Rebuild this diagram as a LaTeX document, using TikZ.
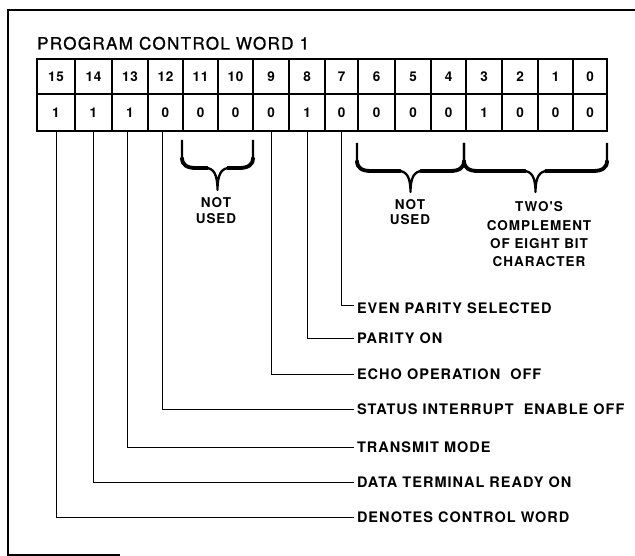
\documentclass[tikz,border=0pt]{standalone}
\usepackage{fontspec}
\setmainfont{TeX Gyre Heros}
\newfontfamily\labfont[LetterSpace=7]{TeX Gyre Heros}
\newfontfamily\titlefont[LetterSpace=8,FakeBold=1]{TeX Gyre Heros}
\newcommand\mybrace[4]{%
  \pgfmathsetmacro\bxm{(#1+#2)/2}%
  \draw[bracestroke] (#1,#3) -- (#1,{#3+16})
    .. controls (#1,{#3+25}) and ({#1+5},{#3+28}) .. ({#1+14},{#3+28})
    -- ({\bxm-12},{#3+28})
    .. controls ({\bxm-4},{#3+28}) and (\bxm,{#3+34}) .. (\bxm,#4)
    .. controls (\bxm,{#3+34}) and ({\bxm+4},{#3+28}) .. ({\bxm+12},{#3+28})
    -- ({#2-14},{#3+28})
    .. controls ({#2-5},{#3+28}) and (#2,{#3+25}) .. (#2,{#3+16}) -- (#2,#3);
  \draw[bracethick] (#1,{#3+18})
    .. controls (#1,{#3+25}) and ({#1+5},{#3+28}) .. ({#1+14},{#3+28})
    -- ({\bxm-10},{#3+28});
  \draw[bracethick] ({\bxm+10},{#3+28}) -- ({#2-14},{#3+28})
    .. controls ({#2-5},{#3+28}) and (#2,{#3+25}) .. (#2,{#3+18});}
\begin{document}
\begin{tikzpicture}[x=1bp,y=-1bp,
  frame/.style={line width=2.2bp},
  cell/.style={draw,line width=1.2bp,inner sep=0pt,outer sep=0pt,
    font=\labfont\bfseries\fontsize{13.5bp}{15bp}\selectfont},
  conn/.style={line width=1bp},
  lab/.style={anchor=west,inner sep=0pt,outer sep=3bp,
    font=\labfont\bfseries\fontsize{14.5bp}{16bp}\selectfont},
  btext/.style={align=center,inner sep=0pt,
    font=\labfont\bfseries\fontsize{13.5bp}{15.5bp}\selectfont},
  bracestroke/.style={line width=2.3bp,line join=round},
  bracethick/.style={line width=3.8bp,line cap=round}]
\useasboundingbox (0,0) rectangle (635,556);
% frame
\draw[frame] (635,10) -- (8,10) -- (8,555) -- (120,555);
% title
\node[anchor=south west,inner sep=0pt,font=\titlefont\fontsize{17bp}{19bp}\selectfont]
  (title) at (37,50) {PROGRAM CONTROL WORD 1};
% table
\foreach \b/\l/\r/\v in {15/37/75/1,14/75/112/1,13/112/148/1,12/148/183/0,
  11/183/218/0,10/218/253/0,9/253/289/0,8/289/325/1,7/325/358/0,6/358/395/0,
  5/395/431/0,4/431/466/0,3/466/502/1,2/502/538/0,1/538/573/0,0/573/607/0}{
  \node[cell,minimum width={(\r-\l)*1bp},minimum height=35bp] (h\b) at ({(\l+\r)/2},76.5) {\b};
  \node[cell,minimum width={(\r-\l)*1bp},minimum height=37bp] (v\b) at ({(\l+\r)/2},112.5) {\v};
}
\draw[line width=2bp] (h15.north west) rectangle (v0.south east);
% labels
\node[lab] (l7) at (354,308) {EVEN PARITY SELECTED};
\node[lab] (l8) at (354,338) {PARITY ON};
\node[lab] (l9) at (354,374) {ECHO OPERATION\ \ OFF};
\node[lab] (l12) at (354,409) {STATUS INTERRUPT\ \ ENABLE OFF};
\node[lab] (l13) at (354,447) {TRANSMIT MODE};
\node[lab] (l14) at (354,482) {DATA TERMINAL READY ON};
\node[lab] (l15) at (354,517) {DENOTES CONTROL WORD};
% connectors
\draw[conn] (v7.south) |- ([yshift=3bp]l7.west);
\draw[conn] (v8.south) |- (l8.west);
\draw[conn] (v9.south) |- (l9.west);
\draw[conn] ([xshift=-3bp]v12.south) |- (l12.west);
\draw[conn] ([xshift=-3bp]v13.south) |- (l13.west);
\draw[conn] (v14.south) |- (l14.west);
\draw[conn] (v15.south) |- (l15.west);
% braces
\mybrace{182}{253}{140}{190}
\mybrace{357}{464}{143}{192}
\mybrace{464}{607}{143}{192}
\node[btext] (nu1) at (216,210.5) {NOT\\USED};
\node[btext] (nu2) at (410,212) {NOT\\USED};
\node[btext,font=\labfont\bfseries\fontsize{13.5bp}{18.3bp}\selectfont] (tc) at (539,234.5)
  {TWO'S\\COMPLEMENT\\OF EIGHT BIT\\CHARACTER};
\end{tikzpicture}
\end{document}
